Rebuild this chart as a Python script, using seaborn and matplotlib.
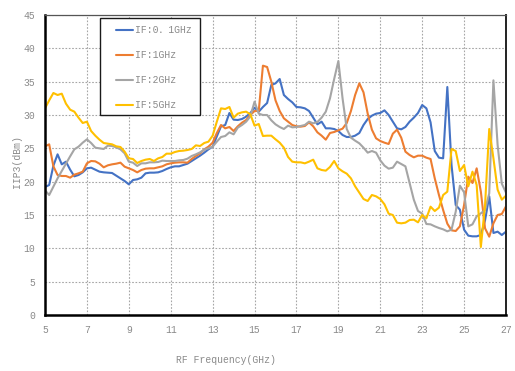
import numpy as np
import pandas as pd
import seaborn as sns
import matplotlib.pyplot as plt
from matplotlib.patches import Rectangle
from matplotlib.ticker import MultipleLocator

# RF sweep grid, 5-27 GHz in 0.2 GHz steps
freq_ghz = np.round(np.arange(5.0, 27.0001, 0.2), 1)

iip3_if_0p1 = [
    19.2, 19.5, 22.4, 24.1, 22.6,
    23.0, 21.8, 20.8, 21.0, 21.4,
    22.0, 22.1, 21.8, 21.5, 21.4,
    21.35, 21.3, 20.9, 20.5, 20.1,
    19.6, 20.25, 20.35, 20.6, 21.25,
    21.35, 21.35, 21.4, 21.6, 21.9,
    22.15, 22.3, 22.3, 22.5, 22.7,
    23.1, 23.5, 23.9, 24.35, 24.85,
    25.25, 26.8, 28.3, 28.5, 30.3,
    29.3, 29.25, 29.4, 29.75, 30.3,
    31.1, 30.5, 31.2, 31.8, 34.5,
    34.75, 35.4, 33.0, 32.4, 31.9,
    31.2, 31.15, 31.0, 30.6, 29.6,
    28.6, 29.0, 28.0, 28.0, 27.9,
    27.6, 27.0, 26.7, 26.7, 26.9,
    27.3, 28.5, 29.4, 29.9, 30.2,
    30.3, 30.7, 30.0, 29.0, 28.0,
    27.85, 28.2, 29.0, 29.6, 30.3,
    31.5, 31.0, 28.9, 24.6, 23.6,
    23.5, 34.2, 22.5, 16.5, 15.8,
    12.8, 11.9, 11.8, 11.8, 12.0,
    14.2, 17.8, 12.3, 12.5, 12.0,
    12.5,
]

iip3_if_1 = [
    25.3, 25.6, 22.3, 21.0, 20.85,
    20.85, 20.6, 21.05, 21.25, 21.5,
    22.75, 23.1, 23.05, 22.7, 22.15,
    22.45, 22.6, 22.7, 22.85, 22.25,
    22.0, 21.75, 21.4, 21.75, 21.95,
    22.0, 22.0, 22.15, 22.3, 22.6,
    22.75, 22.85, 22.9, 22.9, 22.85,
    23.4, 23.85, 24.25, 24.85, 25.25,
    25.85, 27.3, 28.5, 28.0, 28.2,
    27.6, 28.3, 28.85, 29.25, 30.0,
    30.6, 30.6, 37.4, 37.2, 35.0,
    32.2, 30.6, 29.5, 29.0, 28.5,
    28.3, 28.25, 28.35, 28.9, 28.3,
    27.4, 26.9, 26.3, 27.3, 27.45,
    27.7, 27.95, 28.8, 30.6, 33.0,
    34.75, 33.4, 30.2, 27.8, 26.5,
    26.1, 25.85, 25.65, 27.2, 27.8,
    26.6, 24.5, 24.0, 23.65, 23.9,
    23.9, 23.6, 23.4, 20.5, 18.0,
    15.75, 13.7, 12.7, 12.6, 13.3,
    16.5, 20.75, 19.8, 22.0, 18.5,
    13.0, 11.75, 13.75, 15.0, 15.15,
    16.3,
]

iip3_if_2 = [
    18.7, 18.0, 19.25, 20.5, 21.6,
    22.7, 23.8, 24.85, 25.25, 25.85,
    26.35, 25.8, 25.1, 25.0, 24.9,
    25.4, 25.35, 25.15, 24.85, 24.25,
    23.0, 22.85, 22.35, 22.75, 22.75,
    22.9, 22.9, 22.95, 23.15, 23.1,
    23.1, 23.1, 23.2, 23.25, 23.45,
    23.85, 24.1, 24.4, 24.8, 25.0,
    25.25, 26.0, 26.7, 26.85, 27.4,
    27.1, 28.1, 28.5, 29.0, 29.8,
    32.0, 30.2, 30.0, 30.0, 29.2,
    28.6, 28.2, 27.9, 28.4, 28.15,
    28.2, 28.35, 28.5, 29.0, 28.75,
    28.95, 29.6, 30.5, 32.5, 35.4,
    38.1, 32.5, 27.9, 26.6, 26.15,
    25.75, 25.1, 24.35, 24.6, 24.35,
    23.2, 22.4, 21.95, 22.1, 23.0,
    22.65, 22.3, 19.8, 17.3, 15.6,
    15.2, 13.65, 13.6, 13.3, 13.05,
    12.85, 12.55, 12.8, 15.5, 19.4,
    18.4, 13.3, 13.6, 14.8, 15.25,
    15.75, 18.25, 35.2, 25.5, 19.7,
    18.35,
]

iip3_if_5 = [
    31.0, 32.2, 33.3, 33.0, 33.2,
    31.7, 30.8, 30.5, 29.6, 28.8,
    29.0, 27.6, 26.9, 26.3, 25.8,
    25.7, 25.6, 25.3, 25.2, 24.5,
    23.5, 23.4, 22.8, 23.1, 23.3,
    23.4, 23.1, 23.5, 23.7, 24.2,
    24.2, 24.45, 24.6, 24.65, 24.75,
    24.9, 25.45, 25.35, 25.8, 26.0,
    26.9, 29.0, 31.0, 30.9, 31.2,
    29.6, 30.2, 30.4, 30.5, 30.1,
    28.4, 28.65, 26.85, 26.9, 26.9,
    26.35, 25.85, 25.1, 23.7, 23.0,
    22.9, 22.9, 22.75, 23.0, 23.3,
    22.0, 21.75, 21.65, 22.2, 23.1,
    22.0, 21.55, 21.2, 20.5, 19.3,
    18.35, 17.4, 17.1, 18.0, 17.8,
    17.4, 16.6, 15.2, 15.0, 13.85,
    13.75, 13.85, 14.25, 14.3, 13.9,
    15.0, 14.5, 16.25, 15.6, 16.1,
    18.0, 18.5, 24.9, 24.6, 21.6,
    22.5, 19.3, 21.5, 19.5, 10.2,
    16.5, 27.9, 23.5, 18.8, 17.3,
    17.9,
]

series_names = ["IF:0\uff0e1GHz", "IF:1GHz", "IF:2GHz", "IF:5GHz"]
series_values = [iip3_if_0p1, iip3_if_1, iip3_if_2, iip3_if_5]
series_colors = ["#4472C4", "#ED7D31", "#A5A5A5", "#FFC000"]

x_ticks = [5, 7, 9, 11, 13, 15, 17, 19, 21, 23, 25, 27]
y_ticks = [0, 5, 10, 15, 20, 25, 30, 35, 40, 45]

df = pd.concat(
    [pd.DataFrame({"freq": freq_ghz, "iip3": vals, "series": name})
     for name, vals in zip(series_names, series_values)],
    ignore_index=True,
)

sns.set_style("white")
plt.rcParams["font.family"] = ["Liberation Mono", "Noto Sans CJK SC", "DejaVu Sans"]

W, H = 515, 371
fig = plt.figure(figsize=(W / 100, H / 100), dpi=100)
ax = fig.add_axes([45 / W, 1 - 315 / H, (506 - 45) / W, (315 - 15) / H])

sns.lineplot(
    data=df, x="freq", y="iip3", hue="series",
    palette=dict(zip(series_names, series_colors)),
    linewidth=1.5, ax=ax, legend=False, estimator=None, sort=False,
)

ax.set_xlim(5, 27)
ax.set_ylim(0, 45)
ax.set_xticks(x_ticks)
ax.set_yticks(y_ticks)
ax.yaxis.set_minor_locator(MultipleLocator(1))
ax.grid(True, which="major", color="#a6a6a6", linestyle=(0, (1.5, 1.5)), linewidth=0.8)
ax.set_axisbelow(True)

tick_color = "#8a8a8a"
ax.tick_params(axis="both", which="major", direction="in", length=3, width=1,
               color="black", labelcolor=tick_color, labelsize=7, pad=7)
ax.tick_params(axis="y", which="minor", direction="in", length=2.5, width=0.8, color="black")
ax.tick_params(axis="x", which="major", pad=7)

for side in ("left", "bottom"):
    ax.spines[side].set_color("black")
    ax.spines[side].set_linewidth(1.8)
ax.spines["right"].set_color("#222222")
ax.spines["right"].set_linewidth(1.4)
ax.spines["top"].set_color("#555555")
ax.spines["top"].set_linewidth(0.9)

ax.set_xlabel("RF Frequency(GHz)", color=tick_color, fontsize=7)
ax.xaxis.set_label_coords((226 - 45) / 461, (315 - 355) / 300)
ax.set_ylabel("IIP3(dBm)", color=tick_color, fontsize=7)
ax.yaxis.set_label_coords((22 - 45) / 461, (315 - 162) / 300)

# Legend box
box = Rectangle((100 / W, 1 - 115 / H), 100 / W, 97 / H, transform=fig.transFigure,
                facecolor="white", edgecolor="#1a1a1a", linewidth=1.0, zorder=4, clip_on=False)
ax.add_patch(box)

handles = [plt.Line2D([], [], color=c, linewidth=1.5) for c in series_colors]
leg = ax.legend(
    handles, series_names, loc="upper left",
    bbox_to_anchor=(116 / W, 1 - 25 / H), bbox_transform=fig.transFigure,
    frameon=False, fontsize=7, labelcolor=tick_color,
    handlelength=1.75, handletextpad=0.2, labelspacing=1.55,
    borderpad=0, borderaxespad=0,
)
leg.set_zorder(5)

fig.savefig("out.png", dpi=100)
